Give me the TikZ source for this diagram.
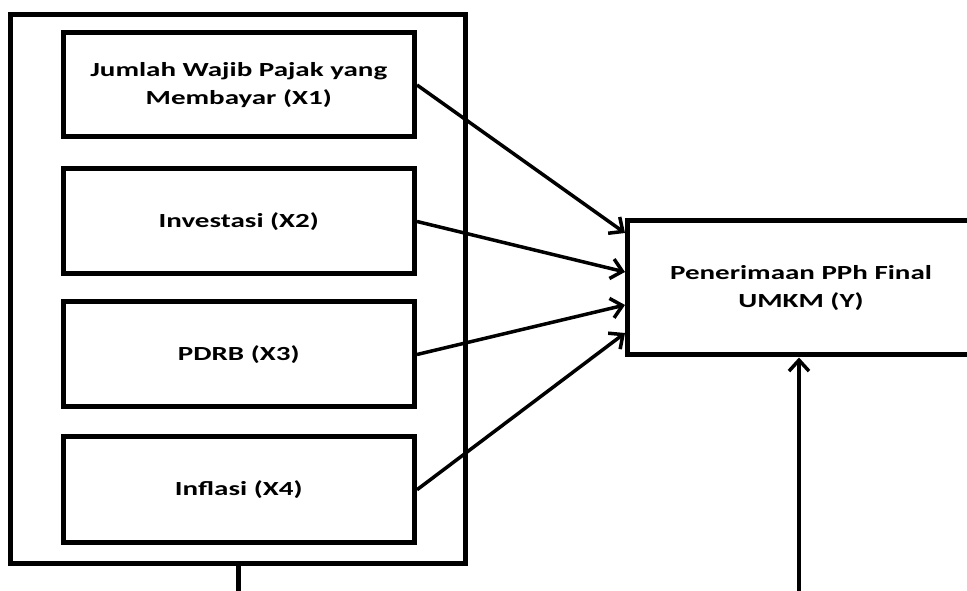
\documentclass[tikz,border=0pt]{standalone}
\usepackage{fontspec}
\setmainfont{Carlito}[FakeStretch=1.45]
\usetikzlibrary{arrows.meta}
\begin{document}
\begin{tikzpicture}[x=1pt, y=1pt, >={Straight Barb[length=11pt, width=20pt]},
    varbox/.style={draw, line width=5pt, minimum width=351.5pt, align=center, inner sep=0pt,
        font=\fontsize{20}{28}\selectfont\bfseries},
    panah/.style={->, line width=3.5pt}]
    \useasboundingbox (0,0) rectangle (967,591);
    \node[draw, line width=5pt, minimum width=455pt, minimum height=549.5pt] (outer) at (238,301.75) {};
    \node[varbox, minimum height=104pt] (x1) at (238.75,506) {Jumlah Wajib Pajak yang\\Membayar (X1)};
    \node[varbox, minimum height=105pt] (x2) at (238.75,369.5) {Investasi (X2)};
    \node[varbox, minimum height=105pt] (x3) at (238.75,236.5) {PDRB (X3)};
    \node[varbox, minimum height=105.5pt] (x4) at (238.75,101.25) {Inflasi (X4)};
    \node[varbox, minimum width=347pt, minimum height=134pt] (y) at (801,303) {Penerimaan PPh Final\\UMKM (Y)};
    \coordinate (bawahx) at (238,0);
    \coordinate (bawahy) at (799,0);
    \draw[panah] (x1.east) -- ([yshift=55pt]y.west);
    \draw[panah] (x2.east) -- ([yshift=16pt]y.west);
    \draw[panah] (x3.east) -- ([yshift=-17pt]y.west);
    \draw[panah] (x4.east) -- ([yshift=-45pt]y.west);
    \draw[line width=5pt] (outer.south) -- (bawahx);
    \draw[panah] (bawahy) -- (bawahy |- y.south);
\end{tikzpicture}
\end{document}
